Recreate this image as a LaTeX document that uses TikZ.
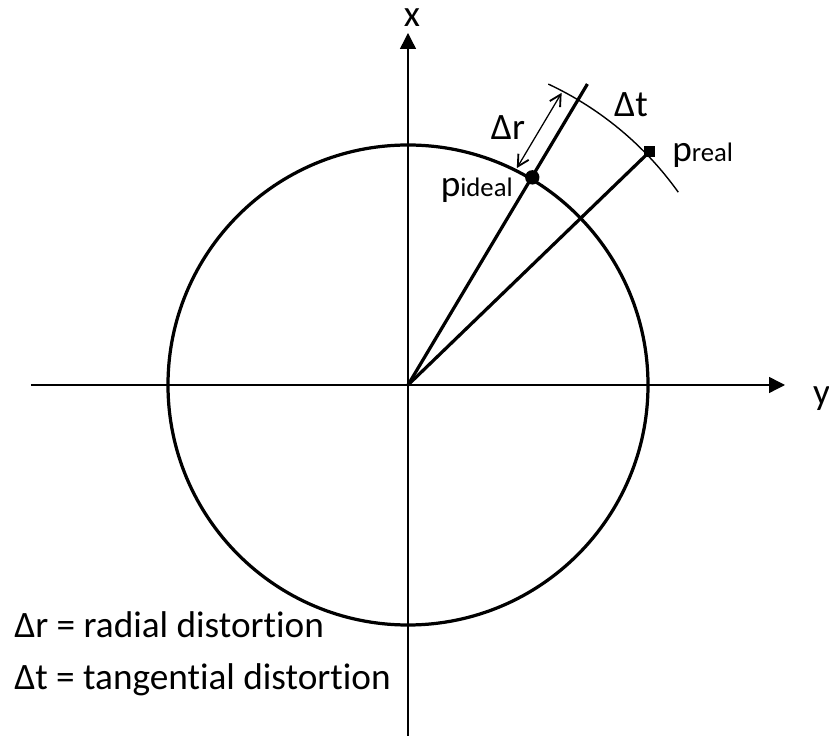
\documentclass[tikz,border=0pt]{standalone}
\usepackage{fontspec}
\setmainfont{Carlito}[Ligatures=NoCommon]
\usetikzlibrary{arrows.meta, calc}

\begin{document}
\begin{tikzpicture}[axis/.style={line width=1pt, -{Triangle[length=0.4cm, width=0.4cm]}},
  ray/.style={line width=2.3pt},
  barb/.style={line width=0.9pt, {Straight Barb[length=0.28cm, width=0.3cm, line width=1.3pt]}-{Straight Barb[length=0.28cm, width=0.3cm, line width=1.3pt]}},
  lbl/.style={font=\fontsize{26.5}{30}\selectfont, inner sep=0pt}]
  \useasboundingbox (-10.2,-8.775) rectangle (10.525,9.625);

  % axes
  \coordinate (O) at (0,0);
  \coordinate (xb) at (0,-8.8);
  \coordinate (xt) at (0,8.8);
  \coordinate (yl) at (-9.425,0);
  \coordinate (yr) at (9.425,0);
  \draw[axis] (xb) -- (xt);
  \draw[axis] (yl) -- (yr);
  \node[lbl, anchor=base] (xlbl) at (0.1,8.95) {x};
  \node[lbl, anchor=base] (ylbl) at (10.34,-0.5) {y};

  % ideal circle and rays
  \draw[ray] (O) circle (6);
  \coordinate (iend) at (59.2:8.76);
  \coordinate (pi) at (59.1:6.05);
  \coordinate (pr) at (44:8.4);
  \draw[ray] (O) -- (iend);
  \draw[ray] (O) -- (pr);
  \fill (pi) circle (0.18);
  \fill (pr) ++(-0.14,-0.14) rectangle ++(0.28,0.28);

  % distortions
  \draw[line width=1pt] (65:8.3) arc[start angle=65, end angle=35.5, radius=8.3];
  \coordinate (dr1) at ([shift={(149.1:0.45)}]59.1:6.05);
  \coordinate (dr2) at ([shift={(149.1:0.455)}]59.1:8.24);
  \draw[barb] (dr1) -- (dr2);

  \node[lbl, anchor=base] (drl) at (2.5,6.125) {Δr};
  \node[lbl, anchor=base] (dtl) at (5.575,6.7) {Δt};
  \node[lbl, anchor=base east] (pil) at (2.625,4.7) {p\fontsize{19}{22}\selectfont ideal};
  \node[lbl, anchor=base west] (prl) at (6.6,5.575) {p\fontsize{19}{22}\selectfont real};

  % legend
  \node[lbl, anchor=base west] (leg1) at (-9.85,-6.325) {Δr = radial distortion};
  \node[lbl, anchor=base west] (leg2) at (-9.85,-7.625) {Δt = tangential distortion};
\end{tikzpicture}
\end{document}
